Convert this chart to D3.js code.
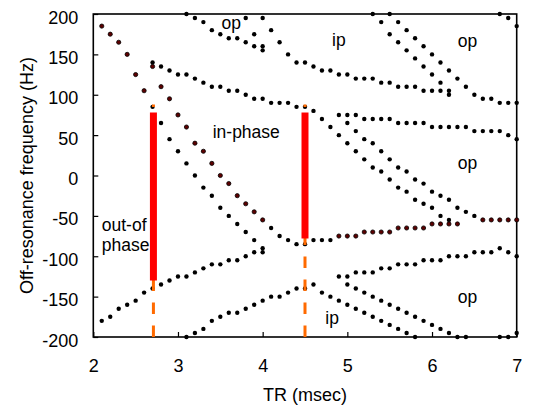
<!DOCTYPE html>
<html>
<head>
<meta charset="utf-8">
<script src="https://cdn.jsdelivr.net/npm/d3@7"></script>
<style>
body { margin: 0; background: #fff; }
#chartDiv { width: 536px; height: 405px; }
text { font-family: "Liberation Sans", Arial, Helvetica, sans-serif; fill: #000; }
</style>
</head>
<body>
<div id="chartDiv"></div>
<script>
// TR values of the simulation grid (msec)
var trGrid = [2.1, 2.2, 2.3, 2.4, 2.5, 2.6, 2.7, 2.8, 2.9, 3.0,
	3.1, 3.2, 3.3, 3.4, 3.5, 3.6, 3.7, 3.8, 3.9, 4.0,
	4.1, 4.2, 4.3, 4.4, 4.5, 4.6, 4.7, 4.8, 4.9, 5.0,
	5.1, 5.2, 5.3, 5.4, 5.5, 5.6, 5.7, 5.8, 5.9, 6.0,
	6.1, 6.2, 6.3, 6.4, 6.5, 6.6, 6.7, 6.8, 6.9, 7.0];

// band positions (Hz), each list starts at the TR given next to it
// dark red points
var dA = [185, 175, 165, 150, 125, 105];                                        // 2.1
var dC = [135, 110, 95, 75, 60, 40, 30, 15, 0, -10, -25, -35, -45, -55];        // 2.7
var dR = [-75, -75, -75, -70, -70, -70, -70, -65, -65, -65, -65, -60, -60, -60, -60]; // 4.9
var dR2 = [-55, -55, -55, -55, -55];                                            // 6.6

// black points
var kB = [140, 135, 130, 125, 125, 120, 115, 110, 110, 105, 105, 100, 95, 95, 90, 90, 90,
	85, 85, 80, 70, 60, 50, 40, 30, 20, 10, 5, -5, -15, -20, -30, -35, -40, -50, -55]; // 2.7
var kD = [85, 65, 45, 30, 15, 0, -15, -25, -40, -50, -60, -70, -80, -90];      // 2.7
var kE = [200, 195, 190, 180, 175, 170, 170, 165, 160, 160];                   // 3.1
var kF = [195, 175, 155];                                                      // 3.8
var kG = [195, 180, 165, 150, 140, 140, 135, 130, 130, 125, 125, 120, 120, 120,
	115, 115, 110, 110, 110, 105, 105, 105, 105];                              // 4.0
var kK = [200, 190, 175, 165, 155, 145, 135, 125, 115, 100];                   // 5.3
var kL = [200, 190, 180, 170, 160, 150, 140, 130, 120, 110, 100, 95, 95, 90, 90, 90]; // 5.5
var kTop = [200, 195, 185];                                                    // 6.8
var kM = [75, 75, 75, 70, 70, 70, 70, 65, 65, 65, 65, 60, 60, 60, 60, 60,
	55, 55, 55, 55, 50, 45];                                                   // 4.9
var kN = [65, 55, 45, 40, 30, 20, 10, 5, -5, -10, -20, -25, -30, -40, -45, -50]; // 5.0
var kR = [-65, -75, -80, -85, -85, -80, -80, -80];                             // 4.1
var kLow = [-180, -175, -165, -160, -155, -145, -140, -135, -130, -125, -125, -120,
	-115, -110, -110, -105, -105, -100, -95, -95];                             // 2.1
var kH = [-200, -195, -190, -180, -175, -170, -170, -165, -160, -155, -150, -150, -145,
	-140, -140, -135, -145, -150, -155, -160, -165, -170, -175, -180, -185, -190,
	-195, -200];                                                               // 3.1
var kS = [-125, -125, -120, -120, -120, -115, -115, -110, -110, -110, -105, -105, -105,
	-100, -100, -100, -95, -95, -95, -90, -95, -100];                          // 4.9
var kT = [-135, -140, -145, -150, -155, -160, -165, -170, -175, -180, -185, -190,
	-195, -200, -200];                                                         // 5.0
var kBot = [-200, -200, -195];                                                 // 6.8

// chosen TRs: red = passband, orange dashed = full range drawn
var markTR = [2.71, 4.5];
var markTop = [78, 78];
var markBottom = [-130, -78];
var dashTop = [88, 88];

// region labels
var labelText = ["op", "ip", "op", "in-phase", "op", "out-of", "phase", "op", "ip"];
var labelTR = [3.63, 4.90, 6.42, 3.41, 6.42, 2.1, 2.1, 6.42, 4.82];
var labelF = [182, 160, 159, 47, 8, -69, -93.5, -158, -184];
var labelAnchor = ["middle", "middle", "middle", "start", "middle", "start", "start", "middle", "middle"];

var xTicks = [2, 3, 4, 5, 6, 7];
var yTicks = [-200, -150, -100, -50, 0, 50, 100, 150, 200];

function drawChart() {
	document.getElementById("chartDiv").innerHTML = "";

	var margin = {top: 14, right: 19.3, bottom: 68, left: 93.3},
	    width = 536 - margin.left - margin.right,
	    height = 405 - margin.top - margin.bottom;

	var x = d3.scaleLinear().domain([2, 7]).range([0, width]);
	var y = d3.scaleLinear().domain([-200, 200]).range([height, 0]);

	// build point table from the band lists
	var bands = [
		{tr0: 2.1, f: dA, dark: true}, {tr0: 2.7, f: dC, dark: true},
		{tr0: 4.9, f: dR, dark: true}, {tr0: 6.6, f: dR2, dark: true},
		{tr0: 2.7, f: kB}, {tr0: 2.7, f: kD}, {tr0: 3.1, f: kE}, {tr0: 3.8, f: kF},
		{tr0: 4.0, f: kG}, {tr0: 5.3, f: kK}, {tr0: 5.5, f: kL}, {tr0: 6.8, f: kTop},
		{tr0: 4.9, f: kM}, {tr0: 5.0, f: kN}, {tr0: 4.1, f: kR}, {tr0: 2.1, f: kLow},
		{tr0: 3.1, f: kH}, {tr0: 4.9, f: kS}, {tr0: 5.0, f: kT}, {tr0: 6.8, f: kBot}
	];
	var points = [];
	bands.forEach(function(b) {
		var start = trGrid.indexOf(b.tr0);
		b.f.forEach(function(v, i) {
			points.push({tr: trGrid[start + i], f: v, dark: !!b.dark});
		});
	});

	var svg = d3.select("#chartDiv").append("svg")
		.attr("width", 536)
		.attr("height", 405)
		.append("g")
		.attr("transform", "translate(" + margin.left + "," + margin.top + ")");

	// axes with inward ticks, plain hyphen for negatives
	var plain = function(d) { return String(d); };
	var xAxis = svg.append("g")
		.attr("transform", "translate(0," + height + ")")
		.call(d3.axisBottom(x).tickValues(xTicks).tickSize(-5).tickPadding(22)
			.tickFormat(plain));
	var yAxis = svg.append("g")
		.call(d3.axisLeft(y).tickValues(yTicks).tickSize(-5).tickPadding(15)
			.tickFormat(plain));
	[xAxis, yAxis].forEach(function(a) {
		a.select(".domain").remove();
		a.selectAll(".tick line").attr("stroke", "#000").attr("stroke-width", 1.2);
		a.selectAll(".tick text").attr("font-size", 18).attr("font-family", null);
	});
	yAxis.selectAll(".tick text").attr("dy", "0.5em");

	// frame
	svg.append("rect")
		.attr("width", width)
		.attr("height", height)
		.attr("fill", "none")
		.attr("stroke", "#000")
		.attr("stroke-width", 1.6);

	// simulated band points
	svg.selectAll(".pt")
		.data(points)
		.enter().append("circle")
		.attr("class", "pt")
		.attr("cx", function(d) { return x(d.tr); })
		.attr("cy", function(d) { return y(d.f); })
		.attr("r", function(d) { return d.dark ? 2.1 : 2.2; })
		.attr("fill", function(d) { return d.dark ? "#5c0000" : "#000"; })
		.attr("stroke", function(d) { return d.dark ? "#000" : "none"; })
		.attr("stroke-width", 0.8);

	// orange dashed ranges, dashes counted from the bottom
	markTR.forEach(function(t, i) {
		svg.append("line")
			.attr("x1", x(t)).attr("x2", x(t))
			.attr("y1", y(-200)).attr("y2", y(dashTop[i]))
			.attr("stroke", "#ff6a00")
			.attr("stroke-width", 3)
			.attr("stroke-dasharray", "11.5,11.5");
		svg.append("line")
			.attr("x1", x(t)).attr("x2", x(t))
			.attr("y1", y(markTop[i])).attr("y2", y(markBottom[i]))
			.attr("stroke", "#ff0000")
			.attr("stroke-width", 7);
	});

	// region labels
	labelText.forEach(function(s, i) {
		svg.append("text")
			.attr("x", x(labelTR[i]))
			.attr("y", y(labelF[i]))
			.attr("text-anchor", labelAnchor[i])
			.attr("font-size", 17.5)
			.text(s);
	});

	// axis titles
	svg.append("text")
		.attr("x", width / 2)
		.attr("y", height + 63.5)
		.attr("text-anchor", "middle")
		.attr("font-size", 18)
		.text("TR (msec)");
	svg.append("text")
		.attr("transform", "translate(" + (33 - margin.left) + "," + (height / 2) + ") rotate(-90)")
		.attr("text-anchor", "middle")
		.attr("font-size", 18)
		.text("Off-resonance frequency (Hz)");
}

drawChart();
</script>
</body>
</html>
